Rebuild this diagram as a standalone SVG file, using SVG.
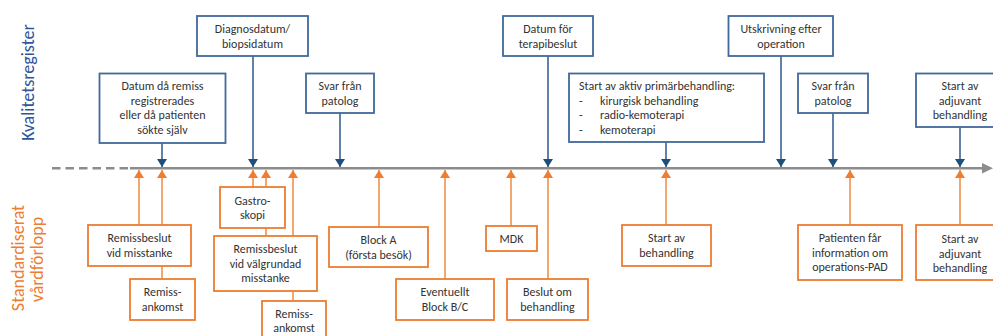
<svg xmlns="http://www.w3.org/2000/svg" width="993" height="336" viewBox="0 0 993 336">
<defs>
<marker id="ab" markerUnits="userSpaceOnUse" markerWidth="10" markerHeight="10" refX="5" refY="9" viewBox="0 0 10 10"><path d="M0,1 L10,1 L5,9 Z" fill="#1f4e79"/></marker>
<marker id="ao" markerUnits="userSpaceOnUse" markerWidth="10" markerHeight="10" refX="5" refY="1" viewBox="0 0 10 10"><path d="M0,9 L10,9 L5,1 Z" fill="#ed7d31"/></marker>
</defs>
<style>
text{font-family:Carlito,Lato,"Liberation Sans",sans-serif;font-size:12px;fill:#333;}
.c{text-anchor:middle;}
.bb{fill:#fff;stroke:#41699c;stroke-width:1.8;}
.ob{fill:#fff;stroke:#ed7d31;stroke-width:1.8;}
.bl{stroke:#3a6295;stroke-width:1.6;fill:none;marker-end:url(#ab);}
.ol{stroke:#f0904a;stroke-width:1.6;fill:none;marker-end:url(#ao);}
.side{font-size:18px;text-anchor:middle;font-weight:300;}
</style>
<rect width="993" height="336" fill="#fff"/>
<g id="labels">
<text class="side" transform="translate(33.5,82.5) rotate(-90)" style="fill:#2f5597">Kvalitetsregister</text>
<text class="side" transform="translate(23.5,258) rotate(-90)" style="fill:#ed7d31">Standardiserat</text>
<text class="side" transform="translate(43,259.5) rotate(-90)" style="fill:#ed7d31">vårdförlopp</text>
</g>
<g id="timeline">
<line x1="52" y1="168.3" x2="130" y2="168.3" stroke="#8c8c8c" stroke-width="2.5" stroke-dasharray="8.5,5"/>
<line x1="130" y1="168.3" x2="984" y2="168.3" stroke="#8c8c8c" stroke-width="2.5"/>
<path d="M982,163 L993,168.3 L982,173.6 Z" fill="#8c8c8c"/>
</g>
<g id="connectors">
<line class="bl" x1="162" y1="143" x2="162" y2="167"/>
<line class="bl" x1="253" y1="56" x2="253" y2="167"/>
<line class="bl" x1="340" y1="113" x2="340" y2="167"/>
<line class="bl" x1="548" y1="56" x2="548" y2="167"/>
<line class="bl" x1="666" y1="142" x2="666" y2="167"/>
<line class="bl" x1="781" y1="56" x2="781" y2="167"/>
<line class="bl" x1="833" y1="113" x2="833" y2="167"/>
<line class="bl" x1="960" y1="127" x2="960" y2="167"/>
<line class="ol" x1="139" y1="225" x2="139" y2="170"/>
<line class="ol" x1="162" y1="279" x2="162" y2="170"/>
<line class="ol" x1="253" y1="187" x2="253" y2="170"/>
<line class="ol" x1="266" y1="236" x2="266" y2="170"/>
<line class="ol" x1="293" y1="301" x2="293" y2="170"/>
<line class="ol" x1="379" y1="227" x2="379" y2="170"/>
<line class="ol" x1="445" y1="279" x2="445" y2="170"/>
<line class="ol" x1="511" y1="226" x2="511" y2="170"/>
<line class="ol" x1="548" y1="279" x2="548" y2="170"/>
<line class="ol" x1="666" y1="225" x2="666" y2="170"/>
<line class="ol" x1="850" y1="225" x2="850" y2="170"/>
<line class="ol" x1="960" y1="225" x2="960" y2="170"/>
</g>
<g id="q-remiss">
<rect class="bb" x="99.5" y="73.5" width="126" height="69.5"/>
<text class="c" x="162.5" y="90">Datum då remiss</text>
<text class="c" x="162.5" y="104.5">registrerades</text>
<text class="c" x="162.5" y="119">eller då patienten</text>
<text class="c" x="162.5" y="133.5">sökte själv</text>
</g>
<g id="q-diagnos">
<rect class="bb" x="197" y="16" width="111" height="40"/>
<text class="c" x="252.5" y="33">Diagnosdatum/</text>
<text class="c" x="252.5" y="47.5">biopsidatum</text>
</g>
<g id="q-svar1">
<rect class="bb" x="306" y="73.5" width="68" height="39.5"/>
<text class="c" x="340" y="90">Svar från</text>
<text class="c" x="340" y="104.5">patolog</text>
</g>
<g id="q-terapibeslut">
<rect class="bb" x="503" y="16" width="90" height="40"/>
<text class="c" x="548" y="33">Datum för</text>
<text class="c" x="548" y="47.5">terapibeslut</text>
</g>
<g id="q-primar">
<rect class="bb" x="569" y="73.5" width="195" height="68.5"/>
<text x="579" y="90">Start av aktiv primärbehandling:</text>
<text x="579" y="104.5">-</text><text x="600" y="104.5">kirurgisk behandling</text>
<text x="579" y="119">-</text><text x="600" y="119">radio-kemoterapi</text>
<text x="579" y="133.5">-</text><text x="600" y="133.5">kemoterapi</text>
</g>
<g id="q-utskrivning">
<rect class="bb" x="728.5" y="16" width="104.5" height="40"/>
<text class="c" x="781" y="33">Utskrivning efter</text>
<text class="c" x="781" y="47.5">operation</text>
</g>
<g id="q-svar2">
<rect class="bb" x="798" y="73.5" width="70" height="39.5"/>
<text class="c" x="833" y="90">Svar från</text>
<text class="c" x="833" y="104.5">patolog</text>
</g>
<g id="q-adjuvant">
<rect class="bb" x="916" y="73.5" width="90" height="53.5"/>
<text class="c" x="960" y="90">Start av</text>
<text class="c" x="960" y="104.5">adjuvant</text>
<text class="c" x="960" y="119">behandling</text>
</g>
<g id="s-remissbeslut">
<rect class="ob" x="88" y="225" width="103" height="41"/>
<text class="c" x="139.5" y="242">Remissbeslut</text>
<text class="c" x="139.5" y="256.5">vid misstanke</text>
</g>
<g id="s-remissankomst1">
<rect class="ob" x="130" y="279" width="65" height="41"/>
<text class="c" x="162.5" y="296">Remiss-</text>
<text class="c" x="162.5" y="310.5">ankomst</text>
</g>
<g id="s-gastroskopi">
<rect class="ob" x="220" y="187" width="65" height="41"/>
<text class="c" x="252.5" y="205">Gastro-</text>
<text class="c" x="252.5" y="218.5">skopi</text>
</g>
<g id="s-valgrundad">
<rect class="ob" x="214" y="236" width="103" height="55"/>
<text class="c" x="265.5" y="253">Remissbeslut</text>
<text class="c" x="265.5" y="267.5">vid välgrundad</text>
<text class="c" x="265.5" y="282">misstanke</text>
</g>
<g id="s-remissankomst2">
<rect class="ob" x="262" y="301" width="64" height="42"/>
<text class="c" x="294" y="317.5">Remiss-</text>
<text class="c" x="294" y="332">ankomst</text>
</g>
<g id="s-blocka">
<rect class="ob" x="329" y="227" width="99" height="40"/>
<text class="c" x="378.5" y="244">Block A</text>
<text class="c" x="378.5" y="258.5">(första besök)</text>
</g>
<g id="s-blockbc">
<rect class="ob" x="396" y="279" width="98" height="41"/>
<text class="c" x="445" y="296">Eventuellt</text>
<text class="c" x="445" y="310.5">Block B/C</text>
</g>
<g id="s-mdk">
<rect class="ob" x="486" y="226" width="51" height="25"/>
<text class="c" x="511.5" y="243">MDK</text>
</g>
<g id="s-beslut">
<rect class="ob" x="507" y="279" width="81" height="41"/>
<text class="c" x="547.5" y="296">Beslut om</text>
<text class="c" x="547.5" y="310.5">behandling</text>
</g>
<g id="s-start">
<rect class="ob" x="622" y="225" width="89" height="41"/>
<text class="c" x="666.5" y="242">Start av</text>
<text class="c" x="666.5" y="256.5">behandling</text>
</g>
<g id="s-pad">
<rect class="ob" x="798" y="225" width="104" height="55"/>
<text class="c" x="850" y="242">Patienten får</text>
<text class="c" x="850" y="256.5">information om</text>
<text class="c" x="850" y="271">operations-PAD</text>
</g>
<g id="s-adjuvant">
<rect class="ob" x="916" y="225" width="90" height="55"/>
<text class="c" x="960" y="243">Start av</text>
<text class="c" x="960" y="257.5">adjuvant</text>
<text class="c" x="960" y="272">behandling</text>
</g>
</svg>
